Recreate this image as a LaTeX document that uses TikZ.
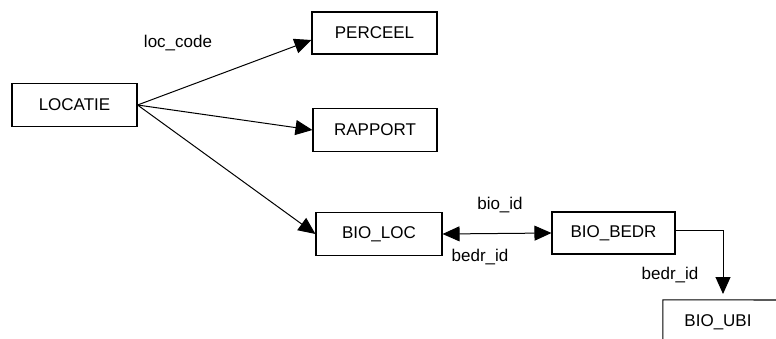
\documentclass[tikz,border=0pt]{standalone}
\usepackage{fontspec}
\setmainfont{Liberation Sans}
\usetikzlibrary{arrows.meta}
\begin{document}
\begin{tikzpicture}[x=1pt,y=-1pt,
  ent/.style={draw,line width=1.1pt,minimum height=43pt,inner sep=0pt,font=\fontsize{17}{20}\selectfont},
  lbl/.style={inner sep=0pt,font=\fontsize{17}{20}\selectfont},
  rel/.style={line width=1pt,-{Triangle[length=17pt,width=15pt]}},
  birel/.style={line width=1pt,{Triangle[length=17pt,width=15pt]}-{Triangle[length=17pt,width=15pt]}}]
\useasboundingbox (0,0) rectangle (776,338);
\clip (0,0) rectangle (776,338);
\fill[white] (0,0) rectangle (776,338);
\node[ent,minimum width=125pt] (locatie) at (74.5,105) {LOCATIE};
\node[ent,minimum width=125pt,minimum height=42pt] (perceel) at (374.5,33) {PERCEEL};
\node[ent,minimum width=124pt] (rapport) at (375,130) {RAPPORT};
\node[ent,minimum width=126pt] (bioloc) at (379,234) {BIO\_LOC};
\node[ent,minimum width=123pt,minimum height=42pt] (biobedr) at (613.5,233) {BIO\_BEDR};
\node[lbl,minimum width=110pt,minimum height=44pt] (bioubi) at (718,322) {BIO\_UBI};
\coordinate (ubiright) at (790,300);
\coordinate (ubitip) at (723,294);
\draw[line width=1.1pt] (bioubi.south west) -- (bioubi.north west) -- (ubiright);
\node[lbl] (lloc) at (178,43) {loc\_code};
\node[lbl] (lbio) at (500,205) {bio\_id};
\node[lbl] (lbedr) at (480,257) {bedr\_id};
\node[lbl] (lbedr2) at (670,275) {bedr\_id};
\draw[rel] (locatie.east) -- ([yshift=-7pt]perceel.west);
\draw[rel] (locatie.east) -- (rapport.west);
\draw[rel] (locatie.east) -- (bioloc.west);
\draw[birel] (bioloc.east) -- (biobedr.west);
\draw[rel] ([yshift=3pt]biobedr.east) -| (ubitip);
\end{tikzpicture}
\end{document}
